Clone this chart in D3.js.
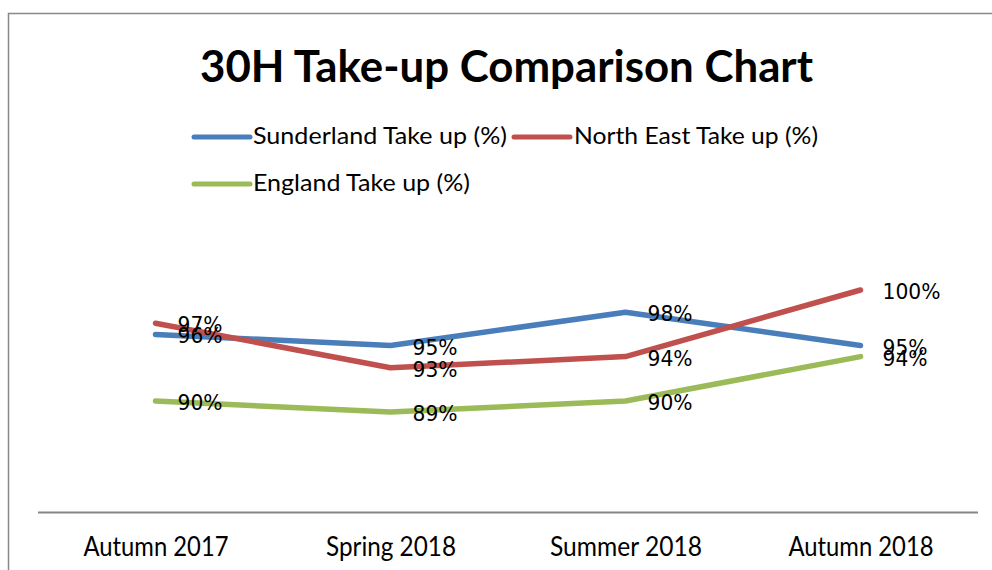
<!DOCTYPE html>
<html>
<head>
<meta charset="utf-8">
<script src="https://cdn.jsdelivr.net/npm/d3@7"></script>
<style>
  html, body { margin: 0; padding: 0; background: #fff; }
  svg { display: block; }
  text { font-family: Lato, "Open Sans", sans-serif; fill: #000; }
</style>
</head>
<body>
<svg id="chart" width="992" height="570"></svg>
<script>
const categories = ["Autumn 2017", "Spring 2018", "Summer 2018", "Autumn 2018"];
const seriesNames = ["Sunderland Take up (%)", "North East Take up (%)", "England Take up (%)"];
const sunderland = [96, 95, 98, 95];
const northEast = [97, 93, 94, 100];
const england = [90, 89, 90, 94];
const colors = ["#4A7EBB", "#C0504D", "#9BBB59"];
const title = "30H Take-up Comparison Chart";

const seriesValues = [sunderland, northEast, england];

const svg = d3.select("#chart");

// outer chart border (extends beyond the picture on right/bottom)
svg.append("rect")
  .attr("x", 8.5).attr("y", 13.5)
  .attr("width", 1100).attr("height", 700)
  .attr("fill", "none").attr("stroke", "#898989").attr("stroke-width", 1.5);

function fitText(sel, width) {
  sel.attr("textLength", width).attr("lengthAdjust", "spacingAndGlyphs");
}

// title
svg.append("text")
  .attr("x", 200).attr("y", 82)
  .style("font-size", "44px").style("font-weight", "bold")
  .text(title)
  .call(fitText, 613);

// legend
const legendItems = [
  { lx: 194, ty: 144, tx: 253, w: 254 },
  { lx: 514, ty: 144, tx: 574, w: 244 },
  { lx: 194, ty: 191, tx: 253, w: 217 }
];
legendItems.forEach((it, i) => {
  const ly = it.ty - 7;
  svg.append("line")
    .attr("x1", it.lx).attr("x2", it.lx + 56)
    .attr("y1", ly).attr("y2", ly)
    .attr("stroke", colors[i]).attr("stroke-width", 5)
    .attr("stroke-linecap", "round");
  svg.append("text")
    .attr("x", it.tx).attr("y", it.ty)
    .style("font-size", "23.5px")
    .text(seriesNames[i])
    .call(fitText, it.w);
});

// scales
const x = d3.scalePoint().domain(categories).range([38, 978]).padding(0.5);
const y = d3.scaleLinear().domain([80, 100]).range([512, 290]);

// x axis
const xAxis = svg.append("g")
  .attr("transform", "translate(0,512.5)")
  .call(d3.axisBottom(x).tickSize(0).tickPadding(0));
xAxis.select(".domain").attr("stroke", "#868686").attr("stroke-width", 2)
  .attr("d", "M38,0H978");
xAxis.selectAll(".tick text")
  .attr("y", 43.5).attr("dy", null)
  .style("font-family", "Lato, 'Open Sans', sans-serif")
  .style("font-size", "26px")
  .attr("fill", "#000")
  .attr("text-anchor", "middle");
xAxis.selectAll(".tick text").filter(d => d === "Spring 2018").call(fitText, 130);
xAxis.selectAll(".tick text").filter(d => d === "Autumn 2017" || d === "Autumn 2018").call(fitText, 145);
xAxis.selectAll(".tick text").filter(d => d === "Summer 2018").call(fitText, 152);

// lines
const line = d3.line()
  .x((d, i) => x(categories[i]))
  .y(d => y(d));

seriesValues.forEach((vals, s) => {
  svg.append("path")
    .datum(vals)
    .attr("d", line)
    .attr("fill", "none")
    .attr("stroke", colors[s])
    .attr("stroke-width", 5.5)
    .attr("stroke-linecap", "round")
    .attr("stroke-linejoin", "round");
});

// data labels
seriesValues.forEach((vals, s) => {
  vals.forEach((v, i) => {
    const label = v + "%";
    svg.append("text")
      .attr("x", x(categories[i]) + 22)
      .attr("y", y(v) + 9)
      .style("font-family", "'DejaVu Sans', sans-serif")
      .style("font-size", "21px")
      .text(label)
      .call(fitText, label.length === 4 ? 58 : 45);
  });
});
</script>
</body>
</html>
